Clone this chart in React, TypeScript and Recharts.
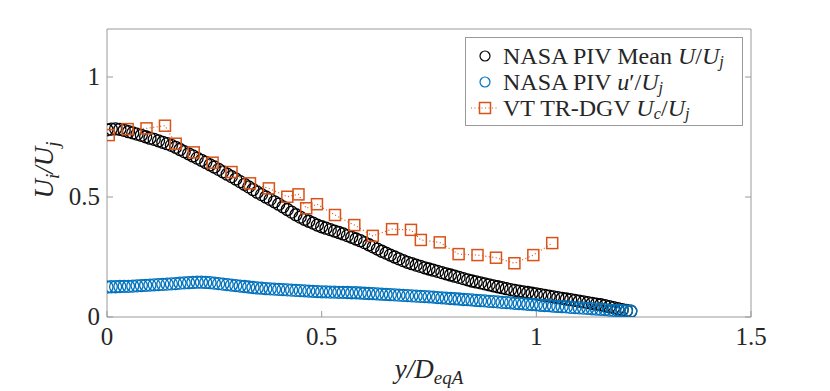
import React from 'react';
import { ComposedChart, Scatter, XAxis, YAxis } from 'recharts';

// NASA PIV profile positions y/D_eqA
const pivPos = [
  0, 0.01, 0.02, 0.03, 0.04, 0.05, 0.06, 0.07, 0.08, 0.09,
  0.1, 0.11, 0.12, 0.13, 0.14, 0.15, 0.16, 0.17, 0.18, 0.19,
  0.2, 0.21, 0.22, 0.23, 0.24, 0.25, 0.26, 0.27, 0.28, 0.29,
  0.3, 0.31, 0.32, 0.33, 0.34, 0.35, 0.36, 0.37, 0.38, 0.39,
  0.4, 0.41, 0.42, 0.43, 0.44, 0.45, 0.46, 0.47, 0.48, 0.49,
  0.5, 0.51, 0.52, 0.53, 0.54, 0.55, 0.56, 0.57, 0.58, 0.59,
  0.6, 0.61, 0.62, 0.63, 0.64, 0.65, 0.66, 0.67, 0.68, 0.69,
  0.7, 0.71, 0.72, 0.73, 0.74, 0.75, 0.76, 0.77, 0.78, 0.79,
  0.8, 0.81, 0.82, 0.83, 0.84, 0.85, 0.86, 0.87, 0.88, 0.89,
  0.9, 0.91, 0.92, 0.93, 0.94, 0.95, 0.96, 0.97, 0.98, 0.99,
  1.0, 1.01, 1.02, 1.03, 1.04, 1.05, 1.06, 1.07, 1.08, 1.09,
  1.1, 1.11, 1.12, 1.13, 1.14, 1.15, 1.16, 1.17, 1.18, 1.19,
  1.2, 1.21, 1.22,
];

// NASA PIV mean U/Uj
const meanU = [
  0.78, 0.783, 0.784, 0.782, 0.778, 0.772, 0.767, 0.762, 0.757, 0.751,
  0.745, 0.74, 0.734, 0.728, 0.722, 0.715, 0.707, 0.698, 0.689, 0.68,
  0.671, 0.662, 0.653, 0.644, 0.634, 0.625, 0.615, 0.605, 0.595, 0.585,
  0.575, 0.564, 0.553, 0.542, 0.531, 0.52, 0.51, 0.5, 0.49, 0.48,
  0.47, 0.459, 0.448, 0.437, 0.426, 0.416, 0.407, 0.399, 0.391, 0.383,
  0.376, 0.37, 0.364, 0.358, 0.352, 0.346, 0.339, 0.332, 0.325, 0.318,
  0.31, 0.301, 0.292, 0.283, 0.274, 0.266, 0.258, 0.25, 0.242, 0.235,
  0.228, 0.222, 0.216, 0.211, 0.205, 0.2, 0.195, 0.19, 0.185, 0.18,
  0.175, 0.17, 0.165, 0.16, 0.155, 0.15, 0.146, 0.142, 0.138, 0.134,
  0.13, 0.126, 0.122, 0.118, 0.114, 0.111, 0.108, 0.105, 0.102, 0.099,
  0.096, 0.093, 0.09, 0.087, 0.084, 0.081, 0.078, 0.075, 0.072, 0.069,
  0.066, 0.063, 0.06, 0.057, 0.054, 0.051, 0.047, 0.043, 0.039, 0.035,
  0.031, 0.027, 0.024,
];

// NASA PIV u'/Uj
const uPrime = [
  0.125, 0.126, 0.126, 0.127, 0.128, 0.128, 0.129, 0.13, 0.131, 0.132,
  0.133, 0.134, 0.135, 0.136, 0.137, 0.138, 0.139, 0.141, 0.142, 0.143,
  0.144, 0.145, 0.145, 0.144, 0.143, 0.141, 0.139, 0.137, 0.135, 0.133,
  0.131, 0.129, 0.127, 0.125, 0.123, 0.121, 0.12, 0.118, 0.117, 0.116,
  0.115, 0.114, 0.113, 0.112, 0.111, 0.11, 0.109, 0.108, 0.107, 0.106,
  0.105, 0.105, 0.104, 0.104, 0.103, 0.103, 0.102, 0.101, 0.101, 0.1,
  0.099, 0.098, 0.097, 0.096, 0.095, 0.094, 0.093, 0.092, 0.091, 0.09,
  0.089, 0.088, 0.087, 0.086, 0.085, 0.084, 0.083, 0.081, 0.08, 0.079,
  0.077, 0.076, 0.075, 0.073, 0.072, 0.071, 0.069, 0.068, 0.067, 0.065,
  0.064, 0.063, 0.061, 0.06, 0.059, 0.057, 0.056, 0.055, 0.053, 0.052,
  0.051, 0.049, 0.048, 0.047, 0.045, 0.044, 0.043, 0.042, 0.04, 0.039,
  0.038, 0.037, 0.036, 0.034, 0.033, 0.032, 0.031, 0.029, 0.028, 0.027,
  0.026, 0.025, 0.024,
];

// VT TR-DGV convective velocity Uc/Uj
const dgvPos = [
  0.004, 0.048, 0.092, 0.135, 0.16, 0.202, 0.246, 0.29, 0.333, 0.377,
  0.42, 0.446, 0.464, 0.489, 0.531, 0.576, 0.619, 0.664, 0.708, 0.731,
  0.775, 0.819, 0.863, 0.906, 0.949, 0.993, 1.037,
];
const dgvUc = [
  0.758, 0.783, 0.786, 0.797, 0.722, 0.686, 0.643, 0.604, 0.557, 0.536,
  0.501, 0.511, 0.453, 0.47, 0.425, 0.383, 0.338, 0.366, 0.363, 0.321,
  0.311, 0.262, 0.258, 0.247, 0.224, 0.258, 0.308,
];

const xTicks = [0, 0.5, 1, 1.5];
const yTicks = [0, 0.5, 1];

const meanData = pivPos.map((y, i) => ({ y, v: meanU[i] }));
const rmsData = pivPos.map((y, i) => ({ y, v: uPrime[i] }));
const dgvData = dgvPos.map((y, i) => ({ y, v: dgvUc[i] }));

const BLACK = '#000000';
const BLUE = '#0072BD';
const ORANGE = '#D95319';
const AXIS = '#9a9a9a';
const TEXT = '#262626';
const FONT = '"Liberation Serif", "Times New Roman", serif';

const circle = (color: string) => (p: any) => (
  <circle cx={p.cx} cy={p.cy} r={6} fill="none" stroke={color} strokeWidth={1.3} />
);

const square = (p: any) => (
  <rect x={p.cx - 5.5} y={p.cy - 5.5} width={11} height={11} fill="none" stroke={ORANGE} strokeWidth={1.5} />
);

const BottomTick = (p: any) => (
  <g>
    <line x1={p.x} y1={p.y} x2={p.x} y2={p.y - 6} stroke={AXIS} />
    <text x={p.x} y={p.y + 28} textAnchor="middle" fontSize={25} fontFamily={FONT} fill={TEXT}>
      {String(p.payload.value)}
    </text>
  </g>
);

const TopTick = (p: any) => <line x1={p.x} y1={p.y} x2={p.x} y2={p.y + 6} stroke={AXIS} />;

const LeftTick = (p: any) => (
  <g>
    <line x1={p.x} y1={p.y} x2={p.x + 6} y2={p.y} stroke={AXIS} />
    <text x={p.x - 7} y={p.y + 8} textAnchor="end" fontSize={25} fontFamily={FONT} fill={TEXT}>
      {String(p.payload.value)}
    </text>
  </g>
);

const RightTick = (p: any) => <line x1={p.x} y1={p.y} x2={p.x - 6} y2={p.y} stroke={AXIS} />;

const LegendRow = ({ kind, children }: { kind: 'black' | 'blue' | 'orange'; children: React.ReactNode }) => (
  <div style={{ display: 'flex', alignItems: 'center', height: 26 }}>
    <svg width={32} height={26} style={{ flex: 'none' }}>
      {kind === 'orange' ? (
        <g>
          <line x1={2} y1={13} x2={30} y2={13} stroke={ORANGE} strokeDasharray="1 2.5" strokeWidth={1.2} />
          <rect x={10.5} y={7.5} width={11} height={11} fill="none" stroke={ORANGE} strokeWidth={1.5} />
        </g>
      ) : (
        <circle cx={16} cy={13} r={5} fill="none" stroke={kind === 'black' ? BLACK : BLUE} strokeWidth={1.2} />
      )}
    </svg>
    <span style={{ whiteSpace: 'nowrap', marginLeft: 2, lineHeight: '22px' }}>{children}</span>
  </div>
);

const sub: React.CSSProperties = { fontSize: '0.68em', verticalAlign: '-0.2em', fontStyle: 'italic', lineHeight: 0 };

export default function App() {
  return (
    <div style={{ position: 'absolute', left: 0, top: 0, width: 830, height: 391, background: '#fff' }}>
      <ComposedChart width={830} height={391} margin={{ top: 0, right: 0, bottom: 0, left: 0 }}>
        <XAxis
          xAxisId="b"
          dataKey="y"
          type="number"
          domain={[0, 1.5]}
          ticks={xTicks}
          allowDataOverflow
          height={74}
          tickSize={0}
          tickMargin={0}
          stroke={AXIS}
          tick={<BottomTick />}
          label={{
            content: () => (
              <text x={429} y={378} textAnchor="middle" fontSize={27} fontFamily={FONT} fill={TEXT} fontStyle="italic">
                y/D
                <tspan fontSize={19} dy={6}>eqA</tspan>
              </text>
            ),
          }}
        />
        <XAxis
          xAxisId="t"
          orientation="top"
          type="number"
          domain={[0, 1.5]}
          ticks={xTicks}
          allowDataOverflow
          height={29}
          tickSize={0}
          tickMargin={0}
          stroke={AXIS}
          tick={<TopTick />}
        />
        <YAxis
          yAxisId="l"
          dataKey="v"
          type="number"
          domain={[0, 1.2]}
          ticks={yTicks}
          allowDataOverflow
          width={107}
          tickSize={0}
          tickMargin={0}
          stroke={AXIS}
          tick={<LeftTick />}
          label={{
            content: () => (
              <text
                transform="translate(53,170) rotate(-90)"
                textAnchor="middle"
                fontSize={27}
                fontFamily={FONT}
                fill={TEXT}
                fontStyle="italic"
              >
                U
                <tspan fontSize={19} dy={6}>i</tspan>
                <tspan fontSize={27} dy={-6}>/U</tspan>
                <tspan fontSize={19} dy={6}>j</tspan>
              </text>
            ),
          }}
        />
        <YAxis
          yAxisId="r"
          orientation="right"
          type="number"
          domain={[0, 1.2]}
          ticks={yTicks}
          allowDataOverflow
          width={79}
          tickSize={0}
          tickMargin={0}
          stroke={AXIS}
          tick={<RightTick />}
        />
        <Scatter
          xAxisId="b"
          yAxisId="l"
          data={meanData}
          shape={circle(BLACK)}
          isAnimationActive={false}
        />
        <Scatter
          xAxisId="b"
          yAxisId="l"
          data={rmsData}
          shape={circle(BLUE)}
          isAnimationActive={false}
        />
        <Scatter
          xAxisId="b"
          yAxisId="l"
          data={dgvData}
          shape={square}
          line={{ stroke: ORANGE, strokeWidth: 1.2, strokeDasharray: '1 2.5' }}
          lineType="joint"
          isAnimationActive={false}
        />
      </ComposedChart>
      <div
        style={{
          position: 'absolute',
          left: 465,
          top: 37,
          width: 278,
          height: 89,
          boxSizing: 'border-box',
          border: `1px solid ${AXIS}`,
          background: '#fff',
          padding: '5px 0 0 3px',
          fontFamily: FONT,
          fontSize: 24,
          color: TEXT,
          lineHeight: 1,
        }}
      >
        <LegendRow kind="black">
          NASA PIV Mean <i>U</i>/<i>U</i>
          <span style={sub}>j</span>
        </LegendRow>
        <LegendRow kind="blue">
          NASA PIV <i>u</i>′/<i>U</i>
          <span style={sub}>j</span>
        </LegendRow>
        <LegendRow kind="orange">
          VT TR-DGV <i>U</i>
          <span style={sub}>c</span>/<i>U</i>
          <span style={sub}>j</span>
        </LegendRow>
      </div>
    </div>
  );
}
